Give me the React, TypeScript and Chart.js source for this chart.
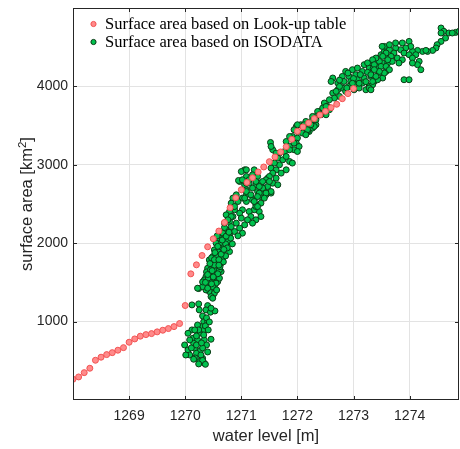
import React, { useEffect, useRef } from "react";
import { Chart, registerables } from "chart.js";

Chart.register(...registerables);

// ---- data -------------------------------------------------------------

const xTickValues = [1269, 1270, 1271, 1272, 1273, 1274];
const yTickValues = [1000, 2000, 3000, 4000];

const lookupLabel = "Surface area based on Look-up table";
const isodataLabel = "Surface area based on ISODATA";

// Look-up table: water level [m] -> surface area [km^2]
const lookupLevel = [
  1268.0, 1268.1, 1268.2, 1268.3, 1268.4, 1268.5, 1268.6, 1268.7, 1268.8, 1268.9,
  1269.0, 1269.1, 1269.2, 1269.3, 1269.4, 1269.5, 1269.6, 1269.7, 1269.8, 1269.9,
  1270.0, 1270.1, 1270.2, 1270.3, 1270.4, 1270.5, 1270.6, 1270.7, 1270.8, 1270.9,
  1271.0, 1271.1, 1271.2, 1271.3, 1271.4, 1271.5, 1271.6, 1271.7, 1271.8, 1271.9,
  1272.0, 1272.1, 1272.2, 1272.3, 1272.4, 1272.5, 1272.6, 1272.7, 1272.8, 1272.9,
  1273.0,
];
const lookupArea = [
  265, 294, 349, 405, 507, 546, 579, 604, 635, 668,
  737, 779, 814, 834, 847, 869, 890, 911, 936, 975,
  1205, 1609, 1724, 1843, 1954, 2056, 2155, 2265, 2452, 2580,
  2682, 2775, 2835, 2908, 2972, 3040, 3100, 3164, 3231, 3325,
  3427, 3483, 3534, 3589, 3636, 3682, 3729, 3772, 3843, 3908,
  3972,
];

// ISODATA classified observations [water level, surface area], grouped by stage range
const isodataLow: [number, number][] = [
  [1270.33, 1000], [1270.40, 1000], [1270.28, 936], [1270.34, 894], [1270.12, 894],
  [1270.05, 851], [1270.25, 851], [1270.14, 788], [1270.22, 766], [1270.46, 775],
  [1270.15, 724], [1270.05, 638], [1270.17, 660], [1270.27, 629], [1270.08, 574],
  [1270.20, 596], [1270.31, 532], [1270.25, 489], [1270.34, 470], [1270.28, 574],
  [1269.99, 702], [1270.08, 766], [1270.34, 766], [1270.38, 702], [1270.31, 664],
  [1270.20, 817], [1270.36, 945], [1270.22, 957], [1270.31, 1072], [1270.38, 1047],
  [1270.43, 996], [1270.24, 894], [1270.33, 830], [1270.40, 613], [1270.31, 505],
  [1270.18, 536], [1270.11, 664], [1270.01, 574], [1270.20, 702], [1270.29, 728],
  [1270.36, 455], [1270.24, 460], [1270.15, 520], [1270.41, 894], [1270.17, 894],
];

const isodataLowMid: [number, number][] = [
  [1270.24, 1421], [1270.12, 1213], [1270.24, 1226], [1270.25, 1149], [1270.40, 1204],
  [1270.37, 1149], [1270.45, 1120], [1270.53, 1136], [1270.46, 1171], [1270.40, 1404],
  [1270.49, 1383], [1270.49, 1319], [1270.43, 1490], [1270.49, 1510], [1270.58, 1510],
  [1270.40, 1468], [1270.52, 1446], [1270.43, 1383], [1270.52, 1362], [1270.46, 1319],
  [1270.49, 1298], [1270.37, 1404],
];

const isodataBand: [number, number][] = [
  [1270.73, 2170], [1270.88, 2149], [1270.79, 2106], [1270.67, 2128], [1270.70, 2064],
  [1270.61, 2064], [1270.76, 2021], [1270.64, 2000], [1270.55, 2000], [1270.70, 1957],
  [1270.61, 1937], [1270.52, 1915], [1270.67, 1893], [1270.79, 1893], [1270.58, 1851],
  [1270.49, 1829], [1270.67, 1809], [1270.43, 1787], [1270.55, 1766], [1270.64, 1745],
  [1270.46, 1723], [1270.58, 1702], [1270.40, 1681], [1270.52, 1660], [1270.64, 1638],
  [1270.43, 1617], [1270.55, 1596], [1270.37, 1574], [1270.49, 1554], [1270.61, 1554],
  [1270.34, 1532], [1270.43, 1510], [1270.55, 1490], [1270.37, 1468], [1270.49, 1446],
  [1270.31, 1446], [1270.40, 1426], [1270.22, 1426], [1270.47, 1813], [1270.72, 1991],
  [1270.59, 1889], [1270.50, 1711], [1270.38, 1634], [1270.68, 1762], [1270.75, 1940],
  [1270.57, 2094], [1270.81, 2064], [1270.41, 1557], [1270.31, 1506], [1270.61, 1660],
  [1270.47, 1481], [1270.56, 1404], [1270.72, 1838], [1270.84, 1991], [1271.02, 2128],
  [1270.94, 2094], [1270.46, 1620], [1270.58, 1610], [1270.52, 1720], [1270.62, 1700],
  [1270.45, 1660], [1270.56, 1830], [1270.64, 1860], [1270.52, 1790], [1270.60, 1790],
  [1270.69, 1920], [1270.58, 1960], [1270.66, 2040], [1270.73, 2090], [1270.50, 1570],
  [1270.40, 1600], [1270.44, 1740], [1270.53, 1880], [1270.78, 2140], [1270.70, 2200],
  [1270.36, 1500], [1270.60, 1720], [1270.48, 1650],
];

const isodataBranches: [number, number][] = [
  [1270.97, 2787], [1271.06, 2745], [1271.14, 2766], [1271.26, 2745], [1271.35, 2766],
  [1271.41, 2703], [1271.29, 2659], [1271.44, 2617], [1271.35, 2595], [1271.09, 2681],
  [1271.09, 2617], [1271.02, 2575], [1270.85, 2575], [1270.94, 2532], [1271.09, 2532],
  [1271.23, 2553], [1271.26, 2489], [1271.32, 2404], [1271.35, 2340], [1271.23, 2426],
  [1271.14, 2404], [1271.02, 2426], [1270.97, 2383], [1270.88, 2426], [1271.17, 2340],
  [1271.26, 2298], [1271.11, 2298], [1271.00, 2320], [1270.85, 2340], [1270.79, 2276],
  [1270.91, 2256], [1271.06, 2234], [1270.97, 2192], [1270.82, 2212], [1270.76, 2362],
  [1270.85, 2468], [1270.79, 2404], [1271.06, 2936], [1271.00, 2914], [1271.09, 2851],
  [1270.95, 2800], [1270.91, 2617], [1270.82, 2511], [1270.88, 2468], [1270.73, 2362],
  [1270.82, 2340], [1270.76, 2298], [1270.70, 2256], [1271.32, 2766], [1271.41, 2639],
  [1271.53, 2639], [1271.47, 2830], [1271.20, 2553], [1271.26, 2468], [1271.20, 2256],
];

const isodataUpperMid: [number, number][] = [
  [1271.98, 3489], [1272.06, 3511], [1272.15, 3469], [1272.21, 3425], [1272.27, 3469],
  [1272.33, 3511], [1272.00, 3425], [1272.09, 3405], [1271.91, 3361], [1272.00, 3341],
  [1271.98, 3277], [1272.03, 3234], [1271.94, 3192], [1271.86, 3234], [1271.80, 3297],
  [1271.77, 3170], [1271.68, 3149], [1271.52, 3285], [1271.56, 3192], [1271.62, 3149],
  [1271.65, 3086], [1271.74, 3064], [1271.86, 3042], [1271.80, 3106], [1271.91, 3022],
  [1271.68, 3000], [1271.59, 3022], [1271.53, 2958], [1271.62, 2936], [1271.80, 2936],
  [1271.71, 2894], [1271.56, 2894], [1271.50, 2851], [1271.62, 2830], [1271.44, 2809],
  [1271.56, 2766], [1271.65, 2745], [1271.47, 2723], [1271.38, 2703], [1271.53, 2659],
  [1271.44, 2639], [1271.32, 2639], [1271.09, 2936], [1271.23, 2936], [1271.20, 2872],
  [1271.29, 2851], [1271.14, 2809], [1271.26, 2787], [1271.38, 2787], [1271.09, 2766],
  [1271.02, 2809], [1271.32, 2723], [1271.20, 2703], [1271.09, 2659], [1271.17, 2617],
  [1271.29, 2595], [1271.41, 2575], [1271.06, 2575], [1271.23, 2532], [1271.35, 2511],
  [1271.29, 2468], [1271.50, 2787], [1271.86, 3192], [1272.24, 3553], [1272.33, 3617],
  [1272.39, 3680], [1272.51, 3638], [1272.57, 3702], [1272.30, 3489], [1272.18, 3425],
  [1272.00, 3511], [1271.94, 3447], [1271.86, 3361], [1271.94, 3277], [1272.00, 3170],
  [1271.53, 3234],
];

const isodataUpper: [number, number][] = [
  [1272.63, 4107], [1272.60, 4063], [1272.86, 4191], [1272.98, 4213], [1273.07, 4234],
  [1273.19, 4277], [1273.31, 4298], [1273.40, 4340], [1273.49, 4404], [1273.58, 4383],
  [1273.52, 4298], [1273.40, 4255], [1273.28, 4234], [1273.16, 4191], [1273.04, 4149],
  [1272.92, 4127], [1272.80, 4127], [1272.83, 4063], [1272.72, 4043], [1272.95, 4063],
  [1273.07, 4085], [1273.19, 4107], [1273.31, 4127], [1273.37, 4063], [1273.28, 4000],
  [1273.16, 4043], [1273.04, 4021], [1272.92, 4000], [1272.80, 3979], [1272.72, 3957],
  [1272.86, 3936], [1273.01, 3957], [1273.10, 3979], [1273.22, 3957], [1273.34, 4021],
  [1273.46, 4171], [1273.58, 4191], [1273.52, 4107], [1273.43, 4085], [1273.55, 4446],
  [1273.61, 4298], [1272.63, 3915], [1272.75, 3872], [1272.66, 3851], [1272.57, 3830],
  [1272.48, 3788], [1272.54, 3744], [1272.45, 3724], [1272.36, 3680], [1272.42, 3638],
  [1272.75, 4000], [1272.69, 3936], [1272.51, 3744], [1272.39, 3638], [1272.33, 3574],
  [1272.24, 3511], [1272.18, 3447], [1272.15, 3383], [1273.28, 3979], [1272.27, 3617],
  [1272.15, 3553], [1272.12, 3511], [1272.90, 4170], [1273.00, 4100], [1273.12, 4150],
  [1273.25, 4180], [1273.10, 4040], [1273.22, 4060], [1272.98, 4040], [1273.35, 4230],
  [1273.45, 4250], [1273.25, 4300], [1272.75, 4080], [1272.88, 3980],
];

const isodataTop: [number, number][] = [
  [1274.56, 4745], [1274.61, 4702], [1274.56, 4681], [1274.70, 4681], [1274.82, 4689],
  [1274.88, 4702], [1274.64, 4617], [1274.56, 4574], [1274.49, 4532], [1274.47, 4490],
  [1274.41, 4459], [1274.32, 4446], [1274.23, 4446], [1274.14, 4459], [1274.05, 4446],
  [1273.99, 4574], [1274.02, 4510], [1273.87, 4554], [1273.93, 4490], [1273.84, 4468],
  [1273.90, 4426], [1273.99, 4404], [1274.11, 4404], [1274.05, 4362], [1274.17, 4319],
  [1274.14, 4277], [1274.20, 4213], [1274.05, 4298], [1273.75, 4490], [1273.72, 4426],
  [1273.64, 4468], [1273.58, 4426], [1273.55, 4510], [1273.67, 4383], [1273.78, 4362],
  [1273.87, 4340], [1273.81, 4298], [1273.69, 4319], [1273.61, 4340], [1273.52, 4383],
  [1273.46, 4319], [1273.40, 4362], [1273.34, 4340], [1273.37, 4277], [1273.49, 4255],
  [1273.58, 4255], [1273.64, 4213], [1273.55, 4171], [1273.46, 4191], [1273.37, 4213],
  [1273.31, 4149], [1273.40, 4127], [1273.34, 4063], [1273.90, 4085], [1273.99, 4085],
  [1273.31, 3957], [1273.51, 4510], [1273.64, 4532], [1273.75, 4554], [1274.29, 4459],
  [1274.76, 4681],
];

const isodataPoints = [
  ...isodataLow,
  ...isodataLowMid,
  ...isodataBand,
  ...isodataBranches,
  ...isodataUpperMid,
  ...isodataUpper,
  ...isodataTop,
];

// ---- styling ----------------------------------------------------------

const INK = "#262626";
const GRID = "#e3e3e3";
const SANS = "'Liberation Sans', Arial, Helvetica, sans-serif";
const SERIF = "'Liberation Serif', 'Times New Roman', serif";
const RED_FILL = "#ff8a8a";
const RED_EDGE = "#f25252";
const GREEN_FILL = "#00c24e";
const GREEN_EDGE = "#0b3a15";
const TICK_LEN = 4;

const framePlugin = {
  id: "frame",
  afterDraw(chart: any) {
    const { ctx, chartArea } = chart;
    const { left, right, top, bottom } = chartArea;
    const xs = chart.scales.x;
    const ys = chart.scales.y;
    ctx.save();

    // axes box
    ctx.strokeStyle = INK;
    ctx.lineWidth = 1;
    ctx.strokeRect(left + 0.5, top + 0.5, right - left - 1, bottom - top - 1);

    // inward tick marks on all four sides
    ctx.beginPath();
    xTickValues.forEach((v) => {
      const px = Math.round(xs.getPixelForValue(v)) + 0.5;
      ctx.moveTo(px, bottom);
      ctx.lineTo(px, bottom - TICK_LEN);
      ctx.moveTo(px, top);
      ctx.lineTo(px, top + TICK_LEN);
    });
    yTickValues.forEach((v) => {
      const py = Math.round(ys.getPixelForValue(v)) + 0.5;
      ctx.moveTo(left, py);
      ctx.lineTo(left + TICK_LEN, py);
      ctx.moveTo(right, py);
      ctx.lineTo(right - TICK_LEN, py);
    });
    ctx.stroke();

    // legend in the upper-left corner of the axes
    const entries = [
      { label: lookupLabel, fill: RED_FILL, edge: RED_EDGE },
      { label: isodataLabel, fill: GREEN_FILL, edge: GREEN_EDGE },
    ];
    ctx.font = `16.5px ${SERIF}`;
    ctx.textBaseline = "alphabetic";
    ctx.textAlign = "left";
    entries.forEach((e, i) => {
      const cy = top + 16 + i * 18;
      ctx.beginPath();
      ctx.arc(left + 20.5, cy, 2.6, 0, Math.PI * 2);
      ctx.fillStyle = e.fill;
      ctx.fill();
      ctx.strokeStyle = e.edge;
      ctx.lineWidth = 1;
      ctx.stroke();
      ctx.fillStyle = "#000";
      ctx.fillText(e.label, left + 32, cy + 4.5);
    });

    // y-axis title with superscript, centred on the axis
    const main = "surface area [km";
    const sup = "2";
    const close = "]";
    const mainFont = `16.5px ${SANS}`;
    const supFont = `11.5px ${SANS}`;
    ctx.font = mainFont;
    const w1 = ctx.measureText(main).width;
    const w3 = ctx.measureText(close).width;
    ctx.font = supFont;
    const w2 = ctx.measureText(sup).width;
    const total = w1 + w2 + w3;
    ctx.translate(32, (top + bottom) / 2);
    ctx.rotate(-Math.PI / 2);
    ctx.fillStyle = INK;
    let x0 = -total / 2;
    ctx.font = mainFont;
    ctx.fillText(main, x0, 0);
    x0 += w1;
    ctx.font = supFont;
    ctx.fillText(sup, x0, -6.5);
    x0 += w2;
    ctx.font = mainFont;
    ctx.fillText(close, x0, 0);

    ctx.restore();
  },
};

export default function App() {
  const canvasRef = useRef<HTMLCanvasElement | null>(null);

  useEffect(() => {
    const canvas = canvasRef.current;
    if (!canvas) return;
    const chart = new Chart(canvas, {
      type: "scatter",
      data: {
        datasets: [
          {
            label: lookupLabel,
            data: lookupLevel.map((x, i) => ({ x, y: lookupArea[i] })),
            pointRadius: 3,
            pointHoverRadius: 3,
            pointBorderWidth: 1,
            backgroundColor: RED_FILL,
            borderColor: RED_EDGE,
          },
          {
            label: isodataLabel,
            data: isodataPoints.map(([x, y]) => ({ x, y })),
            pointRadius: 3,
            pointHoverRadius: 3,
            pointBorderWidth: 1,
            backgroundColor: GREEN_FILL,
            borderColor: GREEN_EDGE,
          },
        ],
      },
      options: {
        animation: false,
        responsive: true,
        maintainAspectRatio: false,
        events: [],
        layout: { autoPadding: false, padding: { top: 8, right: 1, left: 0, bottom: 0 } },
        plugins: {
          legend: { display: false },
          tooltip: { enabled: false },
        },
        scales: {
          x: {
            type: "linear",
            min: 1268,
            max: 1274.88,
            afterBuildTicks: (s: any) => {
              s.ticks = xTickValues.map((value) => ({ value }));
            },
            afterFit: (s: any) => {
              s.height = 49;
              s.paddingLeft = 0;
              s.paddingRight = 0;
            },
            grid: { color: GRID, drawTicks: false, lineWidth: 1 },
            border: { display: false },
            ticks: {
              color: INK,
              font: { family: SANS, size: 14 },
              padding: 7.5,
              maxRotation: 0,
              autoSkip: false,
              callback: (v: any) => String(v),
            },
            title: {
              display: true,
              text: "water level [m]",
              color: INK,
              font: { family: SANS, size: 16.5 },
              padding: { top: 0, bottom: 3 },
            },
          },
          y: {
            type: "linear",
            min: 0,
            max: 5000,
            afterBuildTicks: (s: any) => {
              s.ticks = yTickValues.map((value) => ({ value }));
            },
            afterFit: (s: any) => {
              s.width = 73;
              s.paddingTop = 0;
              s.paddingBottom = 0;
            },
            grid: { color: GRID, drawTicks: false, lineWidth: 1 },
            border: { display: false },
            ticks: {
              color: INK,
              font: { family: SANS, size: 14 },
              padding: 5,
              autoSkip: false,
              callback: (v: any) => String(v),
            },
          },
        },
      },
      plugins: [framePlugin],
    });
    return () => chart.destroy();
  }, []);

  return (
    <div style={{ position: "absolute", left: 0, top: 0, width: 460, height: 449 }}>
      <canvas ref={canvasRef} />
    </div>
  );
}
